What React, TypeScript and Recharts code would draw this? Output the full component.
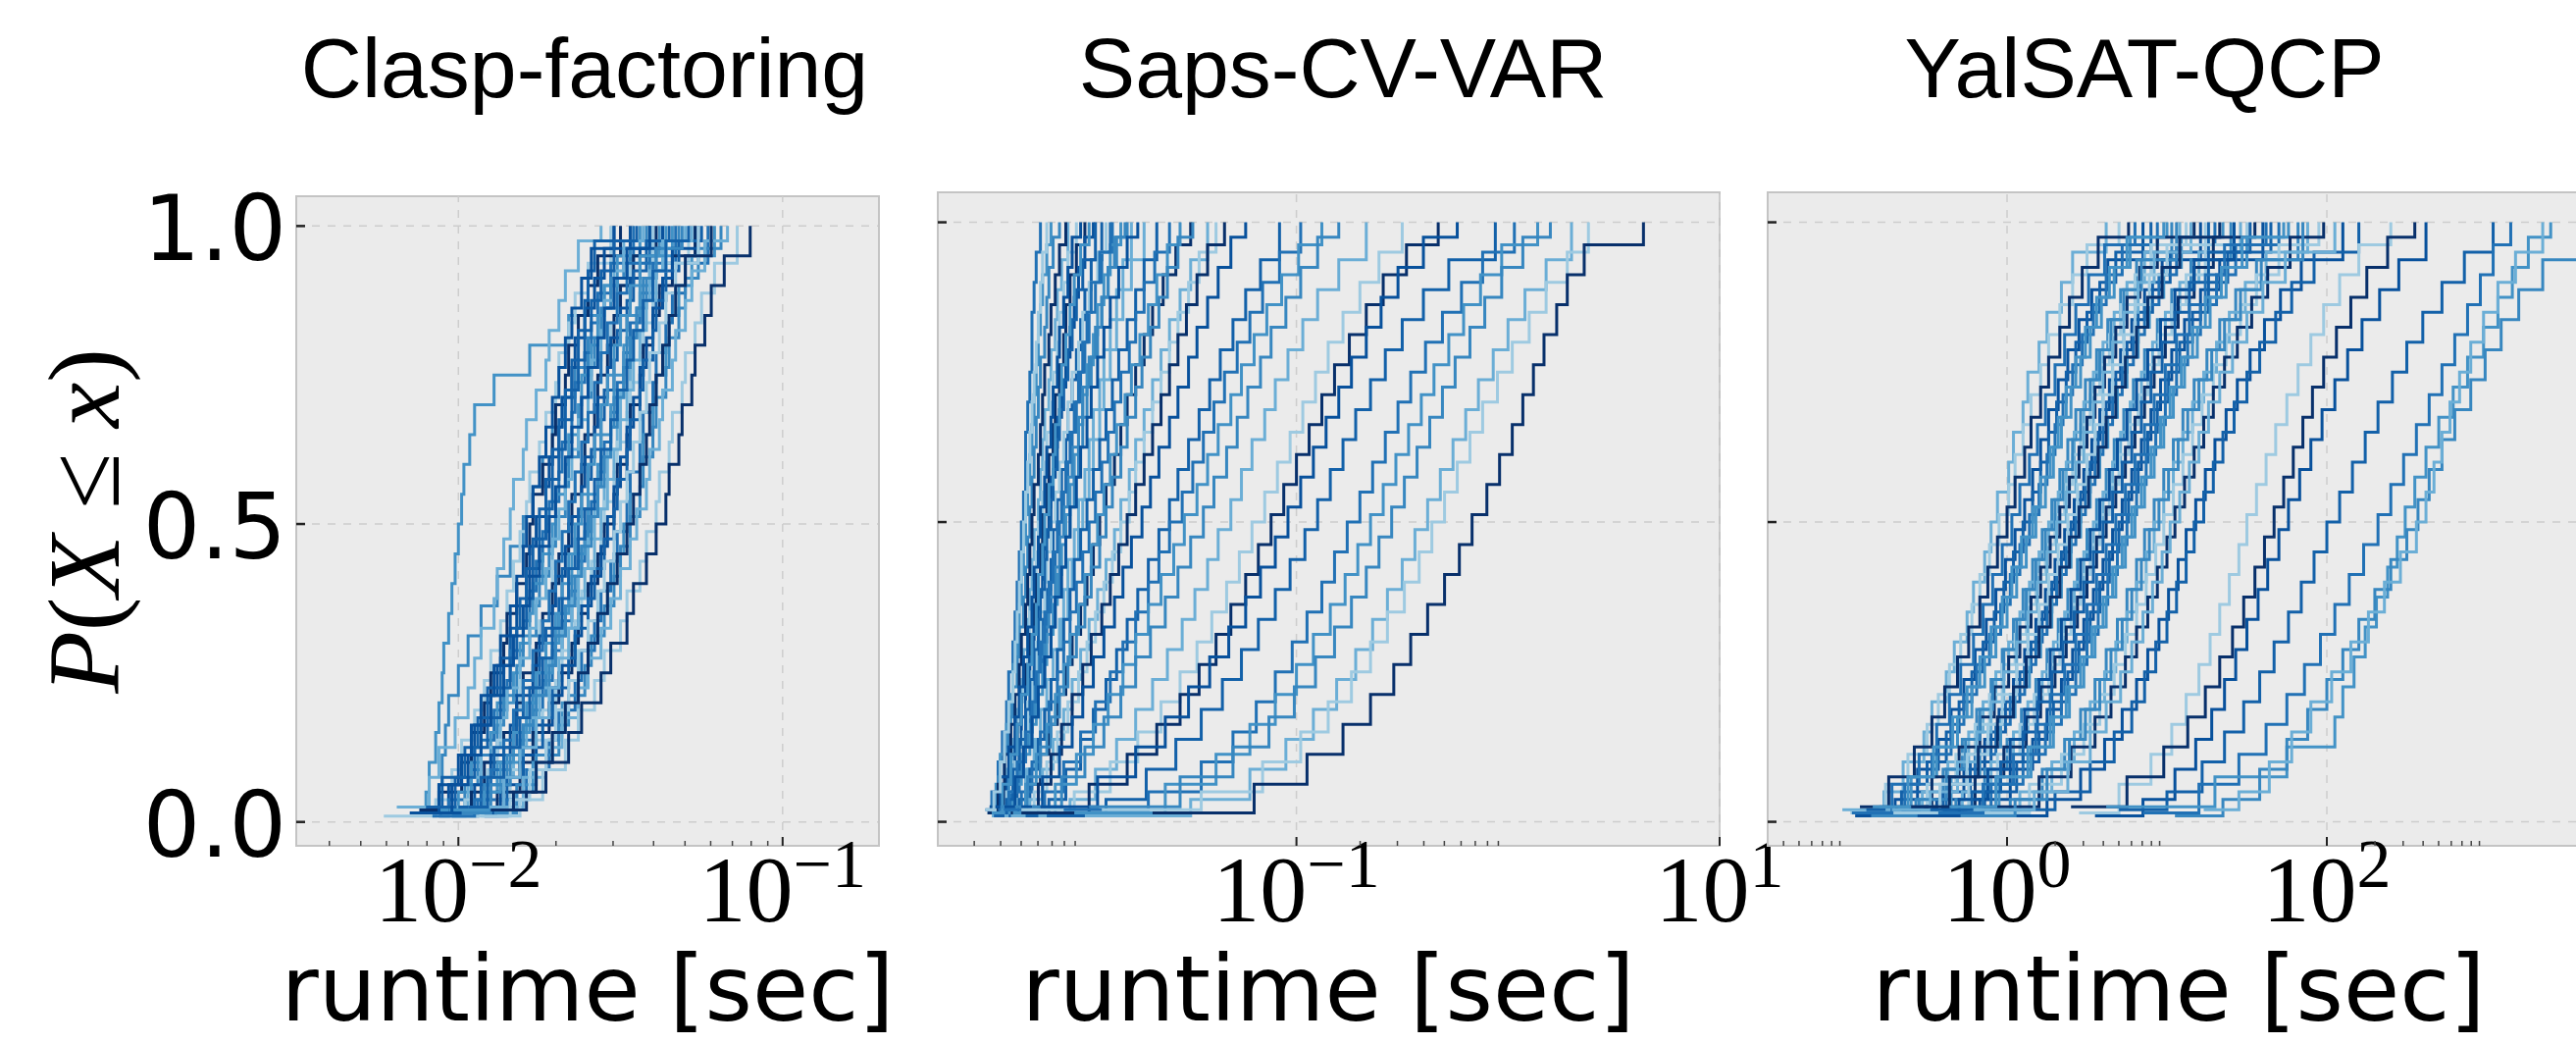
/**
 * Runtime ECDFs of three solver/instance scenarios, one panel each.
 * Log-scaled runtime on x, cumulative probability on y.
 */

import {
  LineChart,
  Line,
  XAxis,
  YAxis,
  CartesianGrid,
  ReferenceLine,
  ReferenceArea,
} from 'recharts'

// probability levels at which the runtime curves were read off
// (four staggered sets, since the instances have different sample counts)
const PROBS_A = [0.02, 0.05, 0.1, 0.15, 0.2, 0.25, 0.3, 0.35, 0.4, 0.45, 0.5, 0.55, 0.6, 0.65, 0.7, 0.75, 0.8, 0.85, 0.9, 0.95, 1.0]
const PROBS_B = [0.015, 0.0625, 0.1125, 0.1625, 0.2125, 0.2625, 0.3125, 0.3625, 0.4125, 0.4625, 0.5125, 0.5625, 0.6125, 0.6625, 0.7125, 0.7625, 0.8125, 0.8625, 0.9125, 0.9625, 1.0]
const PROBS_C = [0.025, 0.075, 0.125, 0.175, 0.225, 0.275, 0.325, 0.375, 0.425, 0.475, 0.525, 0.575, 0.625, 0.675, 0.725, 0.775, 0.825, 0.875, 0.925, 0.975, 1.0]
const PROBS_D = [0.01, 0.0375, 0.0875, 0.1375, 0.1875, 0.2375, 0.2875, 0.3375, 0.3875, 0.4375, 0.4875, 0.5375, 0.5875, 0.6375, 0.6875, 0.7375, 0.7875, 0.8375, 0.8875, 0.9375, 1.0]
const PROB_SETS = [PROBS_A, PROBS_B, PROBS_C, PROBS_D]

const Y_TICKS = [0, 0.5, 1]
const Y_DOMAIN: [number, number] = [-0.04, 1.05]

const BLUES = ['#08306b', '#2171b5', '#6baed6', '#08519c', '#4292c6', '#9ecae1', '#1361a9', '#3787c0']

// log10(runtime [sec]) per instance, one value per probability level
const CLASP_LOG_RT = [
  [-2.12, -2.1, -2.09, -2.07, -2.06, -2.05, -2.045, -2.03, -2.02, -2.01, -2.0, -1.99, -1.983, -1.965, -1.95, -1.89, -1.78, -1.66, -1.55, -1.47, -1.38],
  [-2.08, -2.06, -2.05, -2.04, -2.03, -2.0, -1.97, -1.93, -1.88, -1.84, -1.8, -1.77, -1.74, -1.71, -1.68, -1.64, -1.6, -1.56, -1.51, -1.47, -1.4],
  [-2.19, -2.09, -2.06, -2.01, -1.97, -1.95, -1.93, -1.89, -1.88, -1.86, -1.84, -1.83, -1.8, -1.79, -1.76, -1.73, -1.72, -1.69, -1.67, -1.63, -1.56],
  [-2.23, -2.07, -2.02, -1.99, -1.95, -1.92, -1.9, -1.87, -1.85, -1.83, -1.81, -1.79, -1.78, -1.75, -1.73, -1.7, -1.69, -1.66, -1.64, -1.6, -1.53],
  [-2.12, -2.06, -1.99, -1.96, -1.92, -1.9, -1.86, -1.85, -1.82, -1.79, -1.78, -1.77, -1.74, -1.71, -1.7, -1.67, -1.66, -1.63, -1.6, -1.57, -1.5],
  [-2.14, -2.03, -1.99, -1.95, -1.9, -1.88, -1.84, -1.82, -1.79, -1.78, -1.76, -1.73, -1.72, -1.69, -1.68, -1.65, -1.64, -1.61, -1.58, -1.55, -1.47],
  [-2.1, -2.05, -1.98, -1.94, -1.91, -1.87, -1.84, -1.81, -1.79, -1.77, -1.75, -1.73, -1.71, -1.69, -1.67, -1.65, -1.63, -1.61, -1.6, -1.58, -1.52],
  [-2.08, -2.03, -1.96, -1.93, -1.89, -1.85, -1.84, -1.8, -1.78, -1.76, -1.74, -1.72, -1.69, -1.68, -1.65, -1.64, -1.61, -1.59, -1.57, -1.53, -1.46],
  [-2.06, -2.0, -1.96, -1.9, -1.88, -1.83, -1.81, -1.78, -1.77, -1.74, -1.71, -1.7, -1.67, -1.66, -1.63, -1.62, -1.59, -1.57, -1.55, -1.51, -1.44],
  [-2.09, -1.98, -1.94, -1.88, -1.86, -1.82, -1.8, -1.76, -1.75, -1.72, -1.7, -1.67, -1.66, -1.63, -1.62, -1.59, -1.58, -1.55, -1.53, -1.49, -1.42],
  [-2.01, -1.97, -1.93, -1.87, -1.85, -1.81, -1.78, -1.76, -1.73, -1.71, -1.69, -1.67, -1.65, -1.63, -1.6, -1.59, -1.56, -1.55, -1.52, -1.49, -1.43],
  [-2.05, -1.98, -1.91, -1.88, -1.83, -1.81, -1.77, -1.75, -1.72, -1.71, -1.68, -1.65, -1.64, -1.61, -1.6, -1.57, -1.56, -1.53, -1.51, -1.47, -1.4],
  [-2.03, -1.96, -1.92, -1.86, -1.82, -1.8, -1.76, -1.74, -1.71, -1.69, -1.66, -1.65, -1.62, -1.61, -1.58, -1.57, -1.54, -1.52, -1.5, -1.46, -1.39],
  [-2.04, -1.95, -1.9, -1.84, -1.82, -1.77, -1.75, -1.71, -1.7, -1.67, -1.65, -1.62, -1.61, -1.58, -1.57, -1.54, -1.53, -1.5, -1.47, -1.44, -1.37],
  [-2.0, -1.93, -1.89, -1.82, -1.8, -1.75, -1.73, -1.69, -1.68, -1.64, -1.63, -1.6, -1.59, -1.56, -1.55, -1.52, -1.51, -1.48, -1.46, -1.42, -1.35],
  [-2.06, -1.94, -1.86, -1.81, -1.77, -1.74, -1.71, -1.68, -1.65, -1.63, -1.61, -1.59, -1.57, -1.55, -1.53, -1.51, -1.49, -1.47, -1.44, -1.4, -1.33],
  [-2.03, -1.92, -1.88, -1.81, -1.78, -1.76, -1.71, -1.69, -1.66, -1.65, -1.61, -1.6, -1.57, -1.56, -1.53, -1.52, -1.49, -1.48, -1.44, -1.41, -1.34],
  [-1.99, -1.92, -1.85, -1.8, -1.77, -1.73, -1.7, -1.67, -1.65, -1.62, -1.6, -1.57, -1.56, -1.53, -1.52, -1.49, -1.48, -1.45, -1.43, -1.39, -1.32],
  [-1.97, -1.91, -1.83, -1.79, -1.75, -1.72, -1.68, -1.65, -1.63, -1.6, -1.58, -1.55, -1.54, -1.51, -1.5, -1.47, -1.46, -1.43, -1.41, -1.37, -1.3],
  [-1.99, -1.88, -1.84, -1.77, -1.74, -1.7, -1.68, -1.64, -1.62, -1.59, -1.56, -1.55, -1.52, -1.51, -1.48, -1.47, -1.44, -1.43, -1.4, -1.36, -1.29],
  [-1.95, -1.88, -1.81, -1.77, -1.72, -1.69, -1.65, -1.63, -1.6, -1.57, -1.55, -1.52, -1.51, -1.48, -1.47, -1.44, -1.43, -1.4, -1.38, -1.34, -1.27],
  [-1.94, -1.87, -1.8, -1.76, -1.71, -1.68, -1.64, -1.62, -1.59, -1.56, -1.54, -1.52, -1.5, -1.48, -1.46, -1.44, -1.42, -1.4, -1.37, -1.34, -1.26],
  [-1.96, -1.85, -1.8, -1.74, -1.71, -1.66, -1.64, -1.6, -1.58, -1.55, -1.52, -1.51, -1.48, -1.47, -1.44, -1.43, -1.4, -1.39, -1.36, -1.32, -1.25],
  [-1.92, -1.85, -1.79, -1.72, -1.69, -1.64, -1.62, -1.58, -1.56, -1.53, -1.51, -1.48, -1.47, -1.44, -1.43, -1.4, -1.39, -1.36, -1.34, -1.3, -1.23],
  [-1.93, -1.82, -1.77, -1.71, -1.68, -1.63, -1.6, -1.57, -1.54, -1.52, -1.49, -1.47, -1.44, -1.43, -1.4, -1.39, -1.36, -1.35, -1.32, -1.28, -1.21],
  [-1.89, -1.82, -1.76, -1.69, -1.66, -1.61, -1.59, -1.55, -1.52, -1.5, -1.47, -1.44, -1.43, -1.4, -1.39, -1.36, -1.35, -1.32, -1.3, -1.26, -1.19],
  [-1.91, -1.8, -1.73, -1.68, -1.63, -1.6, -1.56, -1.53, -1.5, -1.47, -1.45, -1.42, -1.41, -1.38, -1.37, -1.34, -1.33, -1.3, -1.28, -1.24, -1.17],
  [-1.88, -1.81, -1.74, -1.67, -1.63, -1.58, -1.55, -1.5, -1.48, -1.44, -1.42, -1.39, -1.38, -1.35, -1.34, -1.31, -1.3, -1.27, -1.25, -1.21, -1.14],
  [-1.84, -1.79, -1.73, -1.66, -1.62, -1.56, -1.53, -1.48, -1.46, -1.42, -1.39, -1.36, -1.35, -1.32, -1.31, -1.28, -1.27, -1.24, -1.22, -1.18, -1.1],
  [-2.15, -2.06, -2.0, -1.96, -1.93, -1.89, -1.87, -1.84, -1.82, -1.8, -1.79, -1.77, -1.75, -1.73, -1.71, -1.69, -1.67, -1.65, -1.62, -1.59, -1.52],
  [-2.07, -2.01, -1.95, -1.91, -1.87, -1.84, -1.82, -1.79, -1.77, -1.75, -1.73, -1.71, -1.69, -1.67, -1.65, -1.63, -1.61, -1.59, -1.56, -1.52, -1.45],
  [-2.02, -1.95, -1.9, -1.86, -1.83, -1.8, -1.77, -1.74, -1.72, -1.7, -1.68, -1.66, -1.64, -1.62, -1.6, -1.58, -1.56, -1.54, -1.51, -1.48, -1.41],
  [-2.0, -1.92, -1.87, -1.83, -1.79, -1.76, -1.73, -1.7, -1.68, -1.66, -1.64, -1.62, -1.6, -1.58, -1.56, -1.54, -1.52, -1.5, -1.47, -1.44, -1.36],
  [-1.98, -1.9, -1.84, -1.8, -1.76, -1.72, -1.7, -1.67, -1.64, -1.62, -1.59, -1.57, -1.55, -1.53, -1.51, -1.49, -1.47, -1.45, -1.42, -1.39, -1.31],
  [-1.95, -1.86, -1.81, -1.76, -1.72, -1.69, -1.66, -1.63, -1.61, -1.58, -1.56, -1.54, -1.52, -1.5, -1.48, -1.46, -1.44, -1.42, -1.39, -1.36, -1.28],
  [-1.93, -1.84, -1.78, -1.73, -1.7, -1.66, -1.63, -1.6, -1.57, -1.55, -1.52, -1.5, -1.48, -1.46, -1.44, -1.42, -1.41, -1.38, -1.36, -1.33, -1.26],
  [-1.9, -1.83, -1.76, -1.71, -1.67, -1.63, -1.6, -1.57, -1.54, -1.51, -1.48, -1.46, -1.44, -1.42, -1.41, -1.39, -1.37, -1.35, -1.33, -1.3, -1.22],
  [-2.1, -2.02, -1.97, -1.93, -1.9, -1.86, -1.83, -1.8, -1.78, -1.75, -1.72, -1.7, -1.67, -1.65, -1.62, -1.6, -1.57, -1.55, -1.52, -1.48, -1.41],
  [-1.97, -1.91, -1.86, -1.81, -1.78, -1.74, -1.71, -1.68, -1.66, -1.63, -1.61, -1.58, -1.56, -1.53, -1.51, -1.48, -1.46, -1.43, -1.4, -1.36, -1.29],
]

const SAPS_LOG_RT = [
  [-2.47, -2.44, -2.41, -2.39, -2.37, -2.36, -2.34, -2.33, -2.32, -2.31, -2.3, -2.29, -2.28, -2.28, -2.27, -2.26, -2.25, -2.25, -2.24, -2.23, -2.21],
  [-2.46, -2.42, -2.4, -2.37, -2.35, -2.34, -2.32, -2.31, -2.3, -2.29, -2.28, -2.27, -2.26, -2.25, -2.24, -2.23, -2.22, -2.21, -2.2, -2.18, -2.16],
  [-2.45, -2.41, -2.38, -2.36, -2.34, -2.32, -2.31, -2.29, -2.28, -2.27, -2.26, -2.25, -2.24, -2.23, -2.22, -2.21, -2.19, -2.18, -2.17, -2.15, -2.12],
  [-2.44, -2.4, -2.37, -2.34, -2.32, -2.3, -2.29, -2.27, -2.26, -2.25, -2.24, -2.22, -2.21, -2.2, -2.19, -2.17, -2.16, -2.14, -2.13, -2.11, -2.08],
  [-2.45, -2.39, -2.36, -2.33, -2.31, -2.29, -2.27, -2.26, -2.24, -2.23, -2.22, -2.2, -2.19, -2.18, -2.16, -2.15, -2.13, -2.12, -2.1, -2.08, -2.04],
  [-2.43, -2.38, -2.35, -2.32, -2.3, -2.28, -2.26, -2.24, -2.23, -2.21, -2.2, -2.18, -2.17, -2.15, -2.14, -2.12, -2.1, -2.09, -2.07, -2.04, -2.0],
  [-2.42, -2.37, -2.33, -2.3, -2.28, -2.26, -2.24, -2.22, -2.2, -2.19, -2.17, -2.16, -2.14, -2.13, -2.11, -2.09, -2.07, -2.05, -2.03, -2.0, -1.96],
  [-2.42, -2.36, -2.32, -2.29, -2.26, -2.24, -2.22, -2.2, -2.18, -2.16, -2.15, -2.13, -2.11, -2.09, -2.08, -2.06, -2.04, -2.02, -2.0, -1.97, -1.92],
  [-2.41, -2.35, -2.31, -2.28, -2.25, -2.22, -2.2, -2.18, -2.16, -2.14, -2.12, -2.1, -2.08, -2.06, -2.04, -2.02, -2.0, -1.98, -1.95, -1.92, -1.87],
  [-2.4, -2.34, -2.3, -2.26, -2.23, -2.2, -2.18, -2.15, -2.13, -2.11, -2.09, -2.07, -2.05, -2.03, -2.01, -1.99, -1.96, -1.94, -1.91, -1.88, -1.83],
  [-2.43, -2.36, -2.31, -2.27, -2.24, -2.22, -2.19, -2.17, -2.14, -2.12, -2.1, -2.08, -2.06, -2.03, -2.01, -1.98, -1.95, -1.92, -1.89, -1.85, -1.8],
  [-2.39, -2.33, -2.28, -2.24, -2.21, -2.18, -2.15, -2.12, -2.1, -2.08, -2.05, -2.03, -2.0, -1.98, -1.96, -1.93, -1.91, -1.88, -1.85, -1.82, -1.78],
  [-2.44, -2.37, -2.33, -2.29, -2.27, -2.25, -2.23, -2.21, -2.19, -2.18, -2.16, -2.14, -2.12, -2.1, -2.08, -2.06, -2.03, -2.01, -1.98, -1.94, -1.9],
  [-2.46, -2.41, -2.38, -2.35, -2.33, -2.31, -2.3, -2.28, -2.27, -2.26, -2.25, -2.24, -2.22, -2.21, -2.2, -2.19, -2.17, -2.16, -2.14, -2.12, -2.09],
  [-2.45, -2.4, -2.36, -2.33, -2.31, -2.29, -2.27, -2.25, -2.24, -2.22, -2.21, -2.19, -2.18, -2.16, -2.15, -2.13, -2.12, -2.1, -2.08, -2.06, -2.02],
  [-2.43, -2.37, -2.34, -2.31, -2.28, -2.26, -2.24, -2.22, -2.21, -2.19, -2.18, -2.16, -2.15, -2.13, -2.12, -2.1, -2.08, -2.06, -2.04, -2.01, -1.95],
  [-2.41, -2.36, -2.32, -2.28, -2.25, -2.23, -2.21, -2.19, -2.17, -2.15, -2.13, -2.11, -2.09, -2.07, -2.05, -2.03, -2.01, -1.99, -1.97, -1.93, -1.88],
  [-2.44, -2.39, -2.35, -2.32, -2.3, -2.27, -2.25, -2.23, -2.22, -2.2, -2.19, -2.17, -2.15, -2.14, -2.12, -2.11, -2.09, -2.07, -2.05, -2.02, -1.98],
  [-2.4, -2.33, -2.29, -2.25, -2.22, -2.19, -2.16, -2.14, -2.12, -2.09, -2.07, -2.05, -2.03, -2.01, -1.99, -1.97, -1.94, -1.92, -1.89, -1.86, -1.81],
  [-2.38, -2.32, -2.27, -2.23, -2.19, -2.16, -2.13, -2.11, -2.08, -2.06, -2.03, -2.01, -1.98, -1.96, -1.93, -1.91, -1.88, -1.85, -1.82, -1.78, -1.72],
  [-2.47, -2.43, -2.4, -2.38, -2.36, -2.34, -2.33, -2.32, -2.31, -2.3, -2.29, -2.28, -2.27, -2.26, -2.25, -2.24, -2.23, -2.22, -2.21, -2.2, -2.18],
  [-2.35, -2.27, -2.21, -2.17, -2.13, -2.09, -2.06, -2.02, -1.99, -1.96, -1.93, -1.9, -1.86, -1.83, -1.8, -1.76, -1.72, -1.68, -1.63, -1.57, -1.5],
  [-2.38, -2.33, -2.29, -2.25, -2.22, -2.19, -2.16, -2.14, -2.11, -2.09, -2.07, -2.04, -2.02, -1.99, -1.97, -1.94, -1.91, -1.88, -1.84, -1.8, -1.75],
  [-2.36, -2.31, -2.26, -2.22, -2.19, -2.16, -2.13, -2.1, -2.07, -2.05, -2.02, -1.99, -1.96, -1.93, -1.9, -1.87, -1.84, -1.8, -1.76, -1.72, -1.66],
  [-2.37, -2.3, -2.25, -2.21, -2.17, -2.13, -2.1, -2.07, -2.04, -2.01, -1.98, -1.95, -1.92, -1.89, -1.86, -1.83, -1.79, -1.76, -1.72, -1.67, -1.6],
  [-2.34, -2.28, -2.23, -2.18, -2.14, -2.1, -2.07, -2.03, -2.0, -1.97, -1.94, -1.91, -1.88, -1.85, -1.81, -1.78, -1.74, -1.7, -1.66, -1.61, -1.55],
  [-2.33, -2.27, -2.21, -2.16, -2.12, -2.08, -2.04, -2.0, -1.97, -1.93, -1.9, -1.87, -1.83, -1.8, -1.76, -1.73, -1.69, -1.65, -1.61, -1.56, -1.49],
  [-2.35, -2.26, -2.2, -2.15, -2.1, -2.06, -2.02, -1.98, -1.94, -1.9, -1.86, -1.83, -1.79, -1.76, -1.72, -1.68, -1.64, -1.6, -1.55, -1.5, -1.42],
  [-2.31, -2.24, -2.18, -2.13, -2.08, -2.03, -1.99, -1.95, -1.91, -1.87, -1.83, -1.79, -1.76, -1.72, -1.68, -1.64, -1.6, -1.56, -1.51, -1.46, -1.38],
  [-2.3, -2.22, -2.16, -2.11, -2.06, -2.01, -1.97, -1.92, -1.88, -1.84, -1.8, -1.76, -1.72, -1.68, -1.64, -1.6, -1.56, -1.52, -1.47, -1.42, -1.34],
  [-2.3, -2.2, -2.12, -2.06, -2.01, -1.96, -1.91, -1.86, -1.82, -1.78, -1.73, -1.69, -1.65, -1.6, -1.56, -1.51, -1.47, -1.42, -1.37, -1.31, -1.24],
  [-2.28, -2.17, -2.09, -2.02, -1.96, -1.9, -1.85, -1.8, -1.75, -1.7, -1.65, -1.6, -1.56, -1.51, -1.46, -1.41, -1.36, -1.3, -1.24, -1.17, -1.08],
  [-2.32, -2.19, -2.1, -2.02, -1.95, -1.88, -1.82, -1.76, -1.7, -1.65, -1.6, -1.54, -1.49, -1.44, -1.39, -1.34, -1.28, -1.22, -1.16, -1.08, -0.98],
  [-2.26, -2.14, -2.04, -1.96, -1.89, -1.82, -1.76, -1.7, -1.64, -1.58, -1.53, -1.47, -1.42, -1.37, -1.31, -1.26, -1.2, -1.14, -1.07, -0.99, -0.88],
  [-2.25, -2.11, -2.0, -1.91, -1.83, -1.76, -1.69, -1.62, -1.56, -1.5, -1.44, -1.39, -1.33, -1.28, -1.23, -1.17, -1.12, -1.05, -0.98, -0.9, -0.8],
  [-2.22, -2.07, -1.95, -1.85, -1.76, -1.68, -1.61, -1.54, -1.48, -1.42, -1.37, -1.31, -1.26, -1.21, -1.15, -1.1, -1.04, -0.97, -0.9, -0.8, -0.67],
  [-2.3, -2.05, -1.88, -1.75, -1.64, -1.55, -1.47, -1.4, -1.33, -1.27, -1.21, -1.15, -1.09, -1.03, -0.97, -0.91, -0.85, -0.78, -0.7, -0.61, -0.5],
  [-2.27, -1.98, -1.8, -1.66, -1.55, -1.46, -1.38, -1.31, -1.24, -1.18, -1.12, -1.06, -1.0, -0.94, -0.88, -0.82, -0.75, -0.67, -0.59, -0.48, -0.33],
  [-2.21, -1.94, -1.76, -1.62, -1.51, -1.41, -1.32, -1.24, -1.17, -1.1, -1.04, -0.98, -0.92, -0.86, -0.8, -0.74, -0.67, -0.6, -0.52, -0.4, -0.24],
  [-2.18, -1.9, -1.71, -1.57, -1.45, -1.35, -1.26, -1.18, -1.1, -1.03, -0.96, -0.9, -0.84, -0.78, -0.72, -0.65, -0.58, -0.5, -0.4, -0.28, -0.06],
  [-2.1, -1.7, -1.45, -1.3, -1.19, -1.1, -1.02, -0.95, -0.88, -0.82, -0.76, -0.7, -0.64, -0.58, -0.52, -0.46, -0.39, -0.31, -0.22, -0.12, 0.03],
  [-2.05, -1.62, -1.38, -1.22, -1.1, -1.0, -0.92, -0.84, -0.77, -0.71, -0.65, -0.59, -0.53, -0.47, -0.41, -0.35, -0.28, -0.21, -0.13, -0.03, 0.14],
  [-1.98, -1.55, -1.3, -1.13, -1.01, -0.91, -0.82, -0.74, -0.67, -0.61, -0.55, -0.49, -0.43, -0.37, -0.31, -0.25, -0.18, -0.11, -0.03, 0.07, 0.2],
  [-2.0, -1.5, -1.22, -1.05, -0.92, -0.81, -0.72, -0.64, -0.57, -0.5, -0.44, -0.38, -0.32, -0.26, -0.2, -0.14, -0.07, 0.0, 0.08, 0.18, 0.3],
  [-1.92, -1.45, -1.16, -0.98, -0.85, -0.74, -0.65, -0.57, -0.49, -0.42, -0.36, -0.3, -0.24, -0.18, -0.12, -0.05, 0.02, 0.1, 0.18, 0.28, 0.38],
  [-1.68, -1.2, -0.95, -0.78, -0.65, -0.54, -0.46, -0.38, -0.3, -0.23, -0.17, -0.1, -0.04, 0.02, 0.07, 0.12, 0.17, 0.23, 0.28, 0.36, 0.64],
]

const YALSAT_LOG_RT = [
  [-1.03, -0.77, -0.65, -0.52, -0.47, -0.38, -0.33, -0.25, -0.21, -0.14, -0.1, -0.06, 0.01, 0.04, 0.1, 0.13, 0.2, 0.25, 0.34, 0.41, 0.62],
  [-0.98, -0.76, -0.62, -0.5, -0.43, -0.36, -0.29, -0.22, -0.17, -0.11, -0.05, 0.01, 0.05, 0.1, 0.15, 0.21, 0.26, 0.33, 0.41, 0.5, 0.7],
  [-0.92, -0.74, -0.58, -0.47, -0.39, -0.31, -0.24, -0.17, -0.12, -0.06, 0.0, 0.05, 0.11, 0.15, 0.21, 0.26, 0.33, 0.39, 0.47, 0.57, 0.76],
  [-0.95, -0.7, -0.56, -0.43, -0.35, -0.27, -0.2, -0.13, -0.07, -0.01, 0.05, 0.11, 0.16, 0.21, 0.26, 0.32, 0.38, 0.45, 0.53, 0.63, 0.85],
  [-0.88, -0.66, -0.5, -0.38, -0.3, -0.22, -0.15, -0.08, -0.02, 0.04, 0.1, 0.16, 0.21, 0.26, 0.31, 0.37, 0.43, 0.5, 0.58, 0.68, 0.9],
  [-0.9, -0.64, -0.47, -0.35, -0.27, -0.19, -0.11, -0.04, 0.02, 0.08, 0.14, 0.2, 0.25, 0.3, 0.35, 0.41, 0.47, 0.54, 0.62, 0.72, 0.94],
  [-0.8, -0.6, -0.44, -0.31, -0.22, -0.14, -0.07, 0.0, 0.06, 0.12, 0.18, 0.24, 0.29, 0.34, 0.4, 0.46, 0.52, 0.59, 0.67, 0.77, 1.0],
  [-0.85, -0.57, -0.4, -0.28, -0.19, -0.1, -0.03, 0.04, 0.1, 0.16, 0.22, 0.28, 0.33, 0.38, 0.43, 0.49, 0.56, 0.63, 0.71, 0.81, 1.03],
  [-0.76, -0.53, -0.37, -0.24, -0.15, -0.07, 0.01, 0.08, 0.14, 0.2, 0.26, 0.32, 0.37, 0.42, 0.48, 0.54, 0.6, 0.67, 0.75, 0.86, 1.08],
  [-0.8, -0.5, -0.32, -0.2, -0.11, -0.03, 0.05, 0.12, 0.18, 0.24, 0.3, 0.36, 0.41, 0.46, 0.52, 0.58, 0.64, 0.71, 0.8, 0.9, 1.12],
  [-0.7, -0.47, -0.3, -0.17, -0.08, 0.01, 0.08, 0.15, 0.21, 0.27, 0.33, 0.39, 0.45, 0.5, 0.55, 0.61, 0.68, 0.75, 0.83, 0.94, 1.17],
  [-0.74, -0.44, -0.27, -0.14, -0.05, 0.04, 0.11, 0.18, 0.24, 0.3, 0.36, 0.42, 0.48, 0.53, 0.58, 0.64, 0.71, 0.78, 0.86, 0.97, 1.21],
  [-0.66, -0.4, -0.23, -0.1, -0.01, 0.08, 0.15, 0.22, 0.28, 0.34, 0.4, 0.46, 0.52, 0.57, 0.62, 0.68, 0.75, 0.82, 0.91, 1.02, 1.26],
  [-0.62, -0.38, -0.2, -0.07, 0.02, 0.11, 0.18, 0.25, 0.31, 0.37, 0.43, 0.49, 0.55, 0.6, 0.66, 0.72, 0.79, 0.86, 0.95, 1.06, 1.3],
  [-0.68, -0.35, -0.17, -0.04, 0.05, 0.14, 0.21, 0.28, 0.34, 0.4, 0.46, 0.52, 0.58, 0.63, 0.69, 0.75, 0.82, 0.89, 0.98, 1.09, 1.35],
  [-0.58, -0.32, -0.14, 0.0, 0.09, 0.18, 0.25, 0.32, 0.38, 0.44, 0.5, 0.56, 0.62, 0.67, 0.73, 0.79, 0.86, 0.94, 1.03, 1.15, 1.4],
  [-0.55, -0.28, -0.1, 0.04, 0.13, 0.22, 0.29, 0.36, 0.42, 0.48, 0.54, 0.6, 0.66, 0.71, 0.77, 0.84, 0.91, 0.99, 1.08, 1.2, 1.46],
  [-0.5, -0.24, -0.06, 0.08, 0.17, 0.26, 0.33, 0.4, 0.46, 0.52, 0.58, 0.64, 0.7, 0.76, 0.82, 0.88, 0.95, 1.03, 1.12, 1.24, 1.5],
  [-0.52, -0.2, -0.02, 0.12, 0.21, 0.3, 0.37, 0.44, 0.5, 0.56, 0.62, 0.68, 0.74, 0.8, 0.86, 0.92, 0.99, 1.07, 1.17, 1.29, 1.55],
  [-0.45, -0.17, 0.02, 0.16, 0.25, 0.34, 0.41, 0.48, 0.54, 0.6, 0.66, 0.72, 0.78, 0.84, 0.9, 0.96, 1.03, 1.11, 1.21, 1.33, 1.6],
  [-0.4, -0.14, 0.06, 0.2, 0.29, 0.38, 0.45, 0.52, 0.58, 0.64, 0.7, 0.76, 0.82, 0.88, 0.94, 1.01, 1.08, 1.16, 1.26, 1.38, 1.65],
  [-0.42, -0.1, 0.1, 0.24, 0.34, 0.43, 0.5, 0.57, 0.63, 0.69, 0.75, 0.81, 0.87, 0.93, 0.99, 1.06, 1.13, 1.21, 1.31, 1.43, 1.7],
  [-0.35, -0.05, 0.15, 0.29, 0.39, 0.48, 0.55, 0.62, 0.68, 0.74, 0.8, 0.86, 0.92, 0.98, 1.04, 1.11, 1.19, 1.27, 1.37, 1.5, 1.76],
  [-0.3, 0.02, 0.22, 0.36, 0.46, 0.55, 0.62, 0.69, 0.75, 0.81, 0.86, 0.92, 0.98, 1.04, 1.1, 1.17, 1.25, 1.33, 1.43, 1.56, 1.82],
  [-0.25, 0.08, 0.28, 0.42, 0.52, 0.61, 0.68, 0.75, 0.81, 0.87, 0.92, 0.98, 1.04, 1.1, 1.16, 1.23, 1.31, 1.39, 1.49, 1.62, 1.88],
  [-0.2, 0.14, 0.34, 0.48, 0.58, 0.67, 0.74, 0.81, 0.87, 0.93, 0.98, 1.04, 1.1, 1.16, 1.22, 1.29, 1.37, 1.46, 1.56, 1.7, 1.95],
  [-0.15, 0.2, 0.4, 0.55, 0.65, 0.74, 0.81, 0.88, 0.94, 1.0, 1.05, 1.11, 1.17, 1.23, 1.29, 1.36, 1.44, 1.53, 1.63, 1.77, 1.98],
  [-0.13, 0.25, 0.46, 0.61, 0.72, 0.81, 0.88, 0.95, 1.01, 1.07, 1.12, 1.18, 1.24, 1.3, 1.37, 1.44, 1.52, 1.61, 1.71, 1.84, 2.1],
  [-0.1, 0.3, 0.52, 0.67, 0.78, 0.86, 0.93, 1.0, 1.06, 1.12, 1.17, 1.23, 1.29, 1.35, 1.42, 1.5, 1.58, 1.68, 1.78, 1.92, 2.2],
  [-0.97, -0.72, -0.55, -0.44, -0.36, -0.29, -0.21, -0.15, -0.09, -0.03, 0.03, 0.08, 0.14, 0.19, 0.24, 0.3, 0.36, 0.43, 0.51, 0.61, 0.8],
  [-0.84, -0.62, -0.46, -0.34, -0.25, -0.17, -0.1, -0.03, 0.03, 0.09, 0.16, 0.21, 0.27, 0.32, 0.37, 0.43, 0.49, 0.56, 0.64, 0.75, 0.98],
  [-0.78, -0.55, -0.38, -0.26, -0.17, -0.09, -0.02, 0.06, 0.12, 0.18, 0.24, 0.3, 0.35, 0.41, 0.46, 0.52, 0.58, 0.65, 0.73, 0.84, 1.06],
  [-0.72, -0.48, -0.31, -0.19, -0.1, -0.02, 0.06, 0.13, 0.19, 0.25, 0.31, 0.37, 0.43, 0.48, 0.54, 0.6, 0.66, 0.73, 0.82, 0.92, 1.15],
  [-0.64, -0.42, -0.25, -0.12, -0.03, 0.06, 0.13, 0.2, 0.26, 0.32, 0.38, 0.44, 0.5, 0.55, 0.6, 0.66, 0.73, 0.8, 0.89, 1.0, 1.24],
  [-0.6, -0.36, -0.18, -0.06, 0.04, 0.12, 0.2, 0.27, 0.33, 0.39, 0.45, 0.51, 0.57, 0.62, 0.68, 0.74, 0.81, 0.88, 0.97, 1.08, 1.33],
  [-0.56, -0.3, -0.12, 0.02, 0.11, 0.2, 0.27, 0.34, 0.4, 0.46, 0.52, 0.58, 0.64, 0.69, 0.75, 0.81, 0.88, 0.96, 1.05, 1.17, 1.42],
  [-0.48, -0.22, -0.04, 0.1, 0.19, 0.28, 0.35, 0.42, 0.48, 0.54, 0.6, 0.66, 0.72, 0.78, 0.84, 0.9, 0.97, 1.05, 1.14, 1.26, 1.52],
  [-0.43, -0.15, 0.04, 0.18, 0.27, 0.36, 0.43, 0.5, 0.56, 0.62, 0.68, 0.74, 0.8, 0.86, 0.92, 0.99, 1.06, 1.14, 1.24, 1.36, 1.62],
  [-0.36, -0.07, 0.13, 0.27, 0.37, 0.46, 0.53, 0.6, 0.66, 0.72, 0.78, 0.84, 0.9, 0.96, 1.02, 1.09, 1.16, 1.24, 1.34, 1.47, 1.73],
  [-0.27, 0.05, 0.25, 0.39, 0.49, 0.58, 0.65, 0.72, 0.78, 0.84, 0.89, 0.95, 1.01, 1.07, 1.13, 1.2, 1.28, 1.36, 1.46, 1.59, 1.85],
  [-0.2, 0.17, 0.38, 0.52, 0.62, 0.71, 0.78, 0.85, 0.91, 0.97, 1.02, 1.08, 1.14, 1.2, 1.26, 1.33, 1.41, 1.5, 1.6, 1.74, 2.05],
  [0.45, 0.7, 0.9, 1.03, 1.12, 1.2, 1.27, 1.33, 1.39, 1.45, 1.5, 1.56, 1.62, 1.68, 1.75, 1.82, 1.9, 1.98, 2.08, 2.2, 2.4],
  [0.4, 0.75, 0.98, 1.13, 1.24, 1.33, 1.41, 1.48, 1.55, 1.61, 1.67, 1.73, 1.79, 1.85, 1.91, 1.98, 2.06, 2.15, 2.25, 2.38, 2.55],
  [0.55, 0.85, 1.05, 1.18, 1.28, 1.36, 1.43, 1.5, 1.57, 1.63, 1.7, 1.76, 1.83, 1.9, 1.97, 2.05, 2.13, 2.22, 2.33, 2.45, 2.62],
  [0.7, 1.0, 1.22, 1.36, 1.48, 1.58, 1.67, 1.76, 1.84, 1.92, 2.0, 2.08, 2.16, 2.24, 2.32, 2.41, 2.5, 2.6, 2.72, 2.86, 3.04],
  [0.85, 1.2, 1.45, 1.62, 1.75, 1.86, 1.96, 2.05, 2.14, 2.23, 2.32, 2.4, 2.48, 2.56, 2.64, 2.72, 2.8, 2.88, 2.96, 3.04, 3.15],
  [0.62, 1.3, 1.75, 2.05, 2.1, 2.17, 2.24, 2.31, 2.38, 2.44, 2.49, 2.55, 2.62, 2.7, 2.79, 2.88, 2.98, 3.07, 3.16, 3.26, 3.4],
  [1.05, 1.35, 1.58, 1.75, 1.88, 2.0, 2.1, 2.2, 2.3, 2.4, 2.5, 2.57, 2.64, 2.72, 2.8, 2.9, 2.99, 3.09, 3.2, 3.35, 3.58],
  [1.23, 1.45, 1.64, 1.78, 1.9, 2.03, 2.15, 2.26, 2.36, 2.46, 2.56, 2.62, 2.67, 2.72, 2.77, 2.83, 2.9, 2.98, 3.07, 3.18, 3.35],
]

// axis ticks: labelled decades and unlabelled minor ticks
const CLASP_MAJOR = [0.01, 0.1]
const CLASP_EXP = ['−2', '−1']
const CLASP_MINOR = [0.004, 0.005, 0.006, 0.007, 0.008, 0.009, 0.02, 0.03, 0.04, 0.05, 0.06, 0.07, 0.08, 0.09]

const SAPS_MAJOR = [0.1, 10]
const SAPS_EXP = ['−1', '1']
const SAPS_MINOR = [0.003, 0.004, 0.005, 0.006, 0.007, 0.008, 0.009, 0.2, 0.3, 0.4, 0.5, 0.6, 0.7, 0.8, 0.9]

const YALSAT_MAJOR = [1, 100]
const YALSAT_EXP = ['0', '2']
const YALSAT_MINOR = [0.04, 0.05, 0.06, 0.07, 0.08, 0.09, 2, 3, 4, 5, 6, 7, 8, 9, 200, 300, 400, 500, 600, 700, 800, 900]

const GRID = '#cdcdcd'
const SERIF = "'Liberation Serif', 'DejaVu Serif', serif"
const SANS = "'DejaVu Sans', sans-serif"

function XTick(props: any) {
  const { x, y, payload, majors, exps } = props
  const idx = majors.indexOf(payload.value)
  if (idx < 0) {
    return <line x1={x} x2={x} y1={y} y2={y - 5} stroke="#444" strokeWidth={1.5} />
  }
  return (
    <g>
      <line x1={x} x2={x} y1={y} y2={y - 9} stroke="#222" strokeWidth={2} />
      <text x={x} y={y + 77} textAnchor="middle" fontFamily={SERIF} fontSize={96} fill="#000">
        10
        <tspan dy={-35} fontSize={70}>
          {exps[idx]}
        </tspan>
      </text>
    </g>
  )
}

function YTick(props: any) {
  const { x, y, payload, showLabel } = props
  return (
    <g>
      <line x1={x} x2={x + 9} y1={y} y2={y} stroke="#222" strokeWidth={2.5} />
      {showLabel && (
        <text x={x - 10} y={y + 35} textAnchor="end" fontFamily={SANS} fontSize={92} fill="#000">
          {Number(payload.value).toFixed(1)}
        </text>
      )}
    </g>
  )
}

interface PanelProps {
  rows: number[][]
  left: number
  width: number
  top: number
  yAxisWidth: number
  marginRight: number
  domain: [number, number]
  majors: number[]
  exps: string[]
  minors: number[]
  showYLabels: boolean
  colorShift: number
}

function Panel({ rows, left, width, top, yAxisWidth, marginRight, domain, majors, exps, minors, showYLabels, colorShift }: PanelProps) {
  const series = rows.map((row, r) => {
    const probs = PROB_SETS[r % PROB_SETS.length]
    return row.map((v, i) => ({ runtime: 10 ** v, p: probs[i] }))
  })
  return (
    <div style={{ position: 'absolute', left, top: 0 }}>
      <LineChart width={width} height={1064} margin={{ top, right: marginRight, bottom: 0, left: 0 }}>
        <CartesianGrid vertical={false} stroke={GRID} strokeDasharray="8 8" strokeWidth={1.5} fill="#ebebeb" />
        {majors.map(m => (
          <ReferenceLine key={m} x={m} stroke={GRID} strokeDasharray="8 8" strokeWidth={1.5} />
        ))}
        <XAxis
          type="number"
          scale="log"
          dataKey="runtime"
          domain={domain}
          allowDataOverflow
          ticks={[...majors, ...minors]}
          interval={0}
          height={202}
          tickSize={0}
          tickMargin={0}
          axisLine={false}
          tickLine={false}
          tick={(p: any) => <XTick {...p} majors={majors} exps={exps} />}
        />
        <YAxis
          type="number"
          dataKey="p"
          domain={Y_DOMAIN}
          allowDataOverflow
          ticks={Y_TICKS}
          interval={0}
          width={yAxisWidth}
          tickSize={0}
          tickMargin={0}
          axisLine={false}
          tickLine={false}
          tick={(p: any) => <YTick {...p} showLabel={showYLabels} />}
        />
        {series.map((data, i) => (
          <Line
            key={i}
            data={data}
            dataKey="p"
            type="stepAfter"
            stroke={BLUES[(i * 3 + colorShift) % BLUES.length]}
            strokeWidth={3}
            dot={false}
            activeDot={false}
            isAnimationActive={false}
          />
        ))}
        <ReferenceArea
          x1={domain[0]}
          x2={domain[1]}
          y1={Y_DOMAIN[0]}
          y2={Y_DOMAIN[1]}
          fill="none"
          stroke="#c4c4c4"
          strokeWidth={2}
          ifOverflow="visible"
        />
      </LineChart>
    </div>
  )
}

export default function App() {
  return (
    <div
      style={{
        position: 'absolute',
        left: 0,
        top: 0,
        width: 2626,
        height: 1064,
        overflow: 'hidden',
        background: '#fff',
      }}
    >
      <Panel
        rows={CLASP_LOG_RT}
        left={0}
        width={900}
        top={200}
        yAxisWidth={302}
        marginRight={4}
        domain={[0.003162, 0.1982]}
        majors={CLASP_MAJOR}
        exps={CLASP_EXP}
        minors={CLASP_MINOR}
        showYLabels
        colorShift={4}
      />
      <Panel
        rows={SAPS_LOG_RT}
        left={940}
        width={900}
        top={196}
        yAxisWidth={16}
        marginRight={87}
        domain={[0.002018, 10]}
        majors={SAPS_MAJOR}
        exps={SAPS_EXP}
        minors={SAPS_MINOR}
        showYLabels={false}
        colorShift={1}
      />
      <Panel
        rows={YALSAT_LOG_RT}
        left={1786}
        width={860}
        top={196}
        yAxisWidth={16}
        marginRight={6}
        domain={[0.03184, 4406]}
        majors={YALSAT_MAJOR}
        exps={YALSAT_EXP}
        minors={YALSAT_MINOR}
        showYLabels={false}
        colorShift={2}
      />
      <svg width={2626} height={1064} style={{ position: 'absolute', left: 0, top: 0, pointerEvents: 'none' }}>
        <g fontFamily="'Liberation Sans', Arial, sans-serif" fontSize={86} textAnchor="middle" fill="#000">
          <text x={596} y={99}>Clasp-factoring</text>
          <text x={1369} y={99}>Saps-CV-VAR</text>
          <text x={2186} y={99}>YalSAT-QCP</text>
        </g>
        <g fontFamily={SANS} fontSize={93} textAnchor="middle" fill="#000">
          <text x={599} y={1040}>runtime [sec]</text>
          <text x={1354} y={1040}>runtime [sec]</text>
          <text x={2221} y={1040}>runtime [sec]</text>
        </g>
        <text
          transform="translate(85,531) rotate(-90)"
          textAnchor="middle"
          dominantBaseline="central"
          fontFamily={SERIF}
          fontSize={104}
          fill="#000"
        >
          <tspan fontStyle="italic">P</tspan>(<tspan fontStyle="italic">X</tspan> ≤ <tspan fontStyle="italic">x</tspan>)
        </text>
      </svg>
    </div>
  )
}
